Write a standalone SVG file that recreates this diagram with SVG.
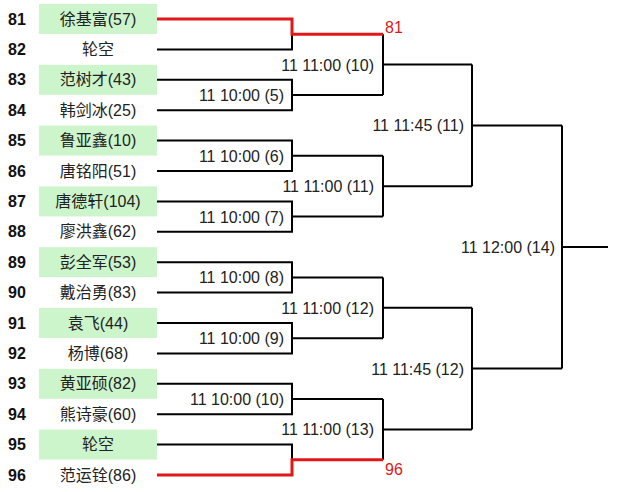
<svg xmlns="http://www.w3.org/2000/svg" width="626" height="492" viewBox="0 0 626 492">
<style>
.bg{fill:#ffffff}
.box{fill:#ccf5cc}
.num{font-family:"Liberation Sans","Noto Sans CJK SC",sans-serif;font-size:16px;font-weight:bold;fill:#111}
.name{font-family:"Liberation Sans","Noto Sans CJK SC",sans-serif;font-size:16px;fill:#222;text-anchor:middle}
.lbl{font-family:"Liberation Sans","Noto Sans CJK SC",sans-serif;font-size:16px;fill:#222;text-anchor:end}
.win{font-family:"Liberation Sans",sans-serif;font-size:16px;fill:#e01818}
.ln{fill:none;stroke:#000;stroke-width:2}
.red{fill:none;stroke:#e01818;stroke-width:3}
</style>
<rect class="bg" x="0" y="0" width="626" height="492"/>
<g id="p81"><rect class="box" x="39" y="4" width="118" height="30"/><text class="num" x="8" y="24.5">81</text><text class="name" x="98" y="24.5">徐基富(57)</text></g>
<g id="p82"><text class="num" x="8" y="54.9">82</text><text class="name" x="98" y="54.9">轮空</text></g>
<g id="p83"><rect class="box" x="39" y="64.8" width="118" height="30"/><text class="num" x="8" y="85.3">83</text><text class="name" x="98" y="85.3">范树才(43)</text></g>
<g id="p84"><text class="num" x="8" y="115.7">84</text><text class="name" x="98" y="115.7">韩剑冰(25)</text></g>
<g id="p85"><rect class="box" x="39" y="125.6" width="118" height="30"/><text class="num" x="8" y="146.1">85</text><text class="name" x="98" y="146.1">鲁亚鑫(10)</text></g>
<g id="p86"><text class="num" x="8" y="176.5">86</text><text class="name" x="98" y="176.5">唐铭阳(51)</text></g>
<g id="p87"><rect class="box" x="39" y="186.4" width="118" height="30"/><text class="num" x="8" y="206.9">87</text><text class="name" x="98" y="206.9">唐德轩(104)</text></g>
<g id="p88"><text class="num" x="8" y="237.3">88</text><text class="name" x="98" y="237.3">廖洪鑫(62)</text></g>
<g id="p89"><rect class="box" x="39" y="247.2" width="118" height="30"/><text class="num" x="8" y="267.7">89</text><text class="name" x="98" y="267.7">彭全军(53)</text></g>
<g id="p90"><text class="num" x="8" y="298.1">90</text><text class="name" x="98" y="298.1">戴治勇(83)</text></g>
<g id="p91"><rect class="box" x="39" y="308" width="118" height="30"/><text class="num" x="8" y="328.5">91</text><text class="name" x="98" y="328.5">袁飞(44)</text></g>
<g id="p92"><text class="num" x="8" y="358.9">92</text><text class="name" x="98" y="358.9">杨博(68)</text></g>
<g id="p93"><rect class="box" x="39" y="368.8" width="118" height="30"/><text class="num" x="8" y="389.3">93</text><text class="name" x="98" y="389.3">黄亚硕(82)</text></g>
<g id="p94"><text class="num" x="8" y="419.7">94</text><text class="name" x="98" y="419.7">熊诗豪(60)</text></g>
<g id="p95"><rect class="box" x="39" y="429.6" width="118" height="30"/><text class="num" x="8" y="450.1">95</text><text class="name" x="98" y="450.1">轮空</text></g>
<g id="p96"><text class="num" x="8" y="480.5">96</text><text class="name" x="98" y="480.5">范运铨(86)</text></g>

<g id="connectors">
<path class="ln" d="M157 49.4 H292 V34.2"/>
<path class="ln" d="M157 79.8 H292 V110.2 H157 M292 95 H383"/>
<path class="ln" d="M157 140.6 H292 V171 H157 M292 155.8 H383"/>
<path class="ln" d="M157 201.4 H292 V231.8 H157 M292 216.6 H383"/>
<path class="ln" d="M157 262.2 H292 V292.6 H157 M292 277.4 H383"/>
<path class="ln" d="M157 323 H292 V353.4 H157 M292 338.2 H383"/>
<path class="ln" d="M157 383.8 H292 V414.2 H157 M292 399 H383"/>
<path class="ln" d="M157 444.6 H292 V459.8"/>
<path class="ln" d="M383 34.2 V95 M383 64.6 H472"/>
<path class="ln" d="M383 155.8 V216.6 M383 186.2 H472"/>
<path class="ln" d="M383 277.4 V338.2 M383 307.8 H472"/>
<path class="ln" d="M383 399 V459.8 M383 429.4 H472"/>
<path class="ln" d="M472 64.6 V186.2 M472 125.4 H562"/>
<path class="ln" d="M472 307.8 V429.4 M472 368.6 H562"/>
<path class="ln" d="M562 125.4 V368.6 M562 247 H608"/>
<path class="red" d="M157 19 H292 V34.2 H383"/>
<path class="red" d="M157 475 H292 V459.8 H383"/>
</g>

<g id="m5"><text class="lbl" x="284" y="101">11 10:00 (5)</text></g>
<g id="m6"><text class="lbl" x="284" y="161.8">11 10:00 (6)</text></g>
<g id="m7"><text class="lbl" x="284" y="222.6">11 10:00 (7)</text></g>
<g id="m8"><text class="lbl" x="284" y="283.4">11 10:00 (8)</text></g>
<g id="m9"><text class="lbl" x="284" y="344.2">11 10:00 (9)</text></g>
<g id="m10a"><text class="lbl" x="284" y="405">11 10:00 (10)</text></g>
<g id="m10"><text class="lbl" x="374" y="70.6">11 11:00 (10)</text></g>
<g id="m11"><text class="lbl" x="374" y="192.2">11 11:00 (11)</text></g>
<g id="m12"><text class="lbl" x="374" y="313.8">11 11:00 (12)</text></g>
<g id="m13"><text class="lbl" x="374" y="435.4">11 11:00 (13)</text></g>
<g id="s11"><text class="lbl" x="464" y="131.4">11 11:45 (11)</text></g>
<g id="s12"><text class="lbl" x="464" y="374.6">11 11:45 (12)</text></g>
<g id="f14"><text class="lbl" x="555" y="253">11 12:00 (14)</text></g>
<g id="w81"><text class="win" x="385" y="33">81</text></g>
<g id="w96"><text class="win" x="385" y="475">96</text></g>
</svg>
